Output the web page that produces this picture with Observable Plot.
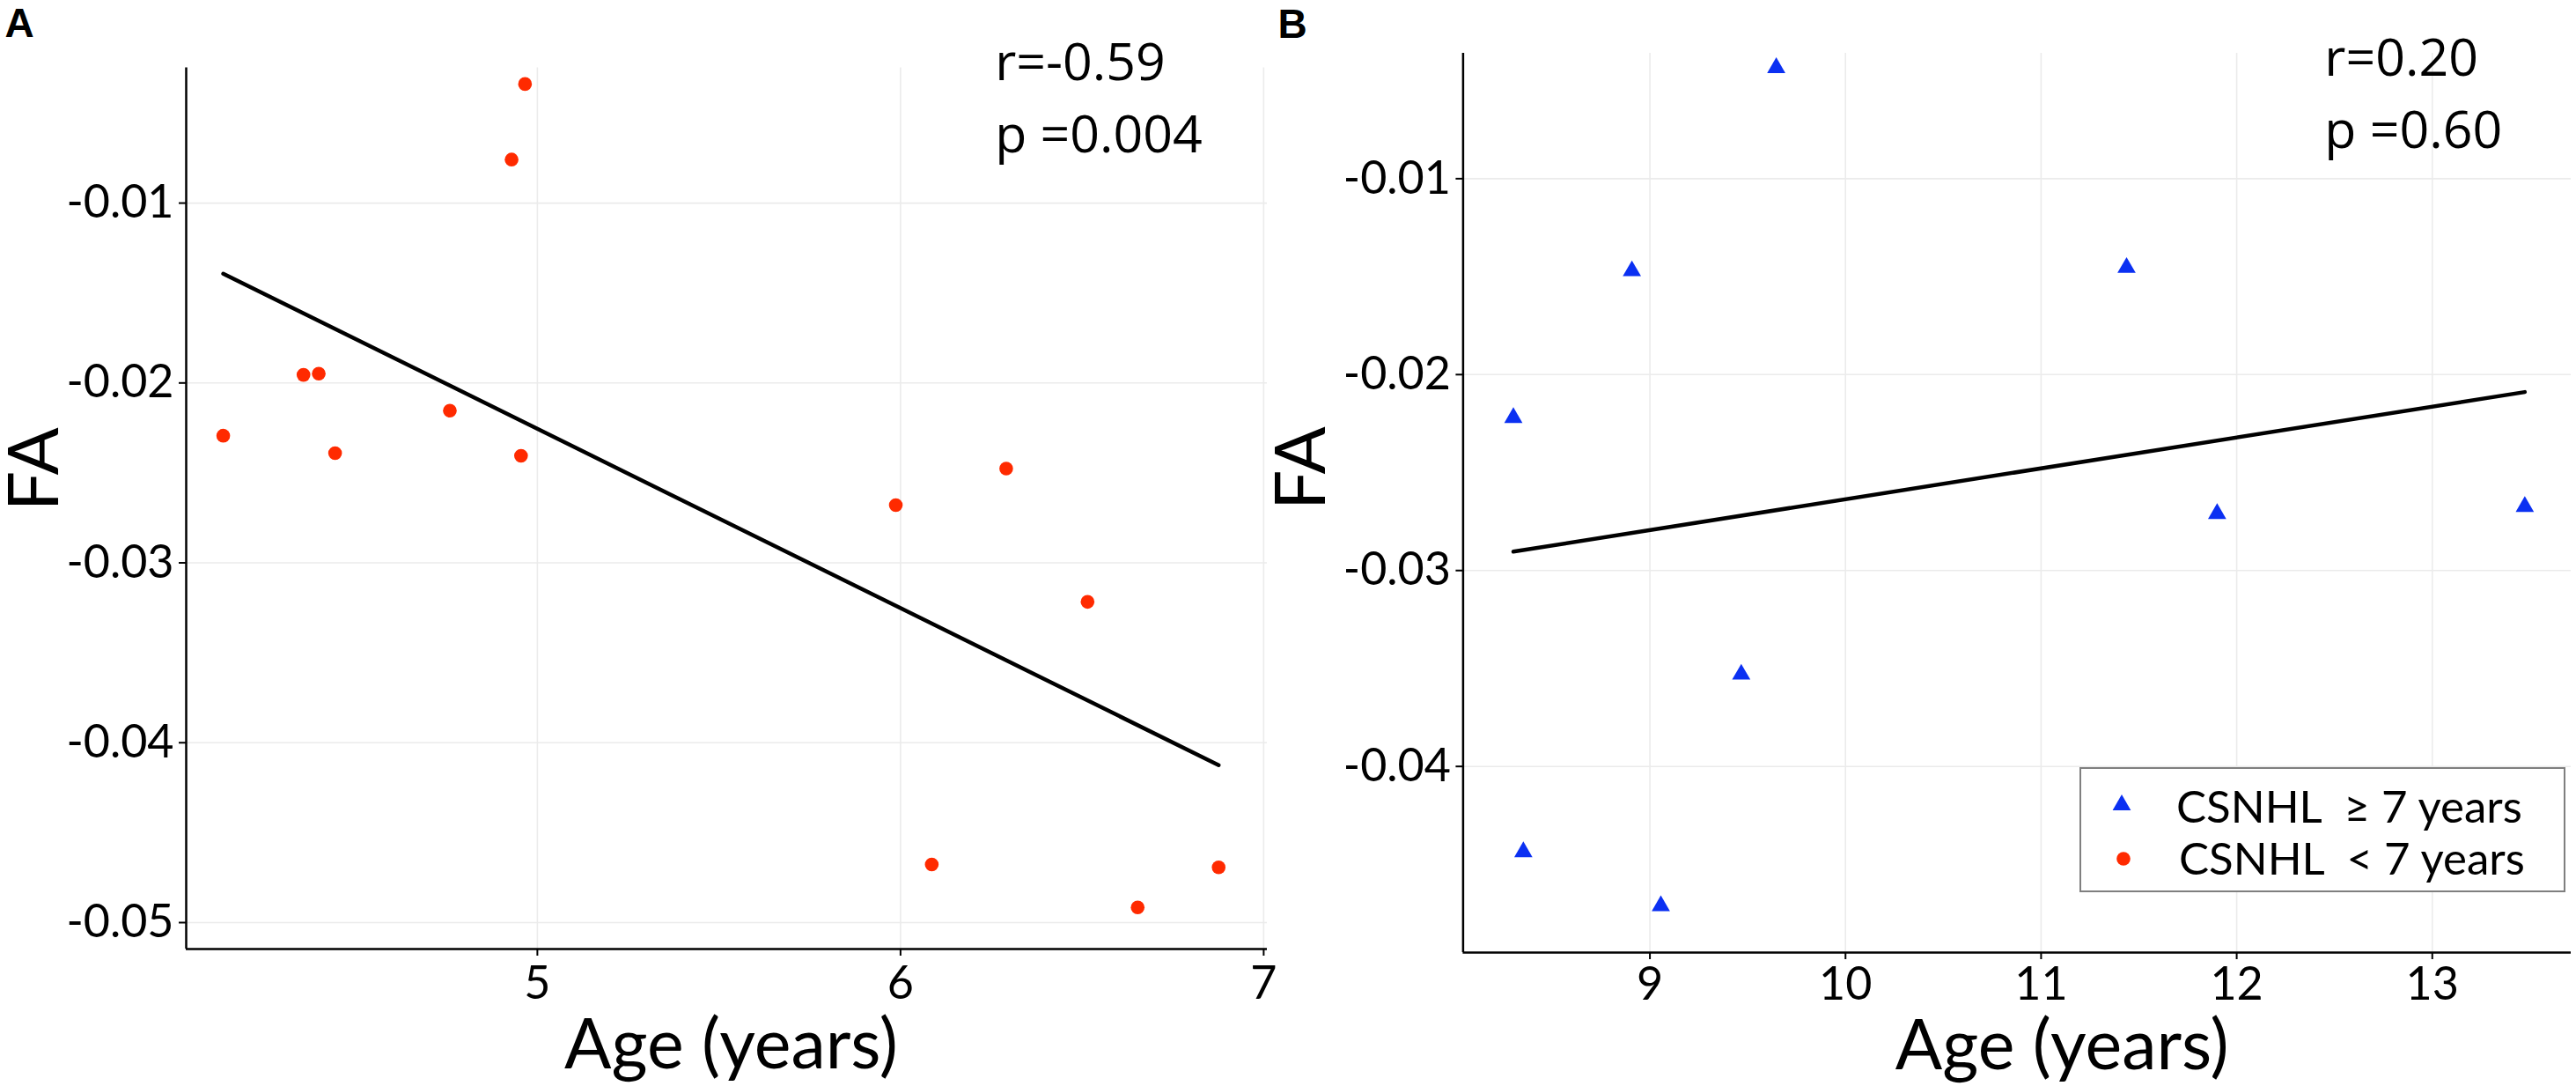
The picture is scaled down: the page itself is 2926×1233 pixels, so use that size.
<!DOCTYPE html>
<html>
<head>
<meta charset="utf-8">
<script src="https://cdn.jsdelivr.net/npm/d3@7"></script>
<script src="https://cdn.jsdelivr.net/npm/@observablehq/plot@0.6"></script>
<style>
  html, body { margin: 0; padding: 0; background: #fff; }
  #wrap { position: relative; width: 2926px; height: 1233px; overflow: hidden; background: #fff; }
  #wrap > .panel { position: absolute; top: 0; }
  #legend { position: absolute; left: 0; top: 0; pointer-events: none; }
</style>
</head>
<body>
<div id="wrap"></div>
<script>
// ---------- data ----------
const ageA = [4.135, 4.356, 4.398, 4.443, 4.759, 4.929, 4.955, 4.966, 5.987, 6.086, 6.291, 6.515, 6.653, 6.876];
const faA  = [-0.02293, -0.01955, -0.01948, -0.0239, -0.02154, -0.00758, -0.02405, -0.00338, -0.02679, -0.04677, -0.02476, -0.03217, -0.04916, -0.04693];
const ageB = [8.302, 8.353, 8.908, 9.056, 9.467, 9.646, 11.437, 11.90, 13.473];
const faB  = [-0.0222, -0.04436, -0.01471, -0.04712, -0.0353, -0.00434, -0.01454, -0.0271, -0.02674];

const xTicksA = [5, 6, 7];
const yTicksA = [-0.01, -0.02, -0.03, -0.04, -0.05];
const xTicksB = [9, 10, 11, 12, 13];
const yTicksB = [-0.01, -0.02, -0.03, -0.04];

const statsA = ["r=-0.59", "p =0.004"];
const statsB = ["r=0.20", "p =0.60"];
const panelLabels = ["A", "B"];
const xLabel = "Age (years)";
const yLabel = "FA";
const legendLabels = ["CSNHL  \u2265 7 years", "CSNHL  < 7 years"];

const RED = "#ff2a00";
const BLUE = "#0b30f2";
const GRID = "#ebebeb";
const TICKFONT = "Lato, 'Open Sans', sans-serif";
const STATFONT = "'Open Sans', 'DejaVu Sans', sans-serif";

const dataA = ageA.map((a, i) => ({age: a, fa: faA[i]}));
const dataB = ageB.map((a, i) => ({age: a, fa: faB[i]}));

function panel({data, width, marginLeft, marginRight, marginTop, marginBottom,
                xDomain, yDomain, xTicks, yTicks, symbol, fill, r,
                stats, statX, statY, letter, letterDx, letterDy,
                xLabelDx, xLabelDy, yLabelY, yLabelDx, xTickPad}) {
  return Plot.plot({
    width, height: 1233,
    marginLeft, marginRight, marginTop, marginBottom,
    style: {fontFamily: TICKFONT, background: "transparent", overflow: "visible"},
    x: {domain: xDomain},
    y: {domain: yDomain},
    marks: [
      Plot.gridX(xTicks, {stroke: GRID, strokeOpacity: 1, strokeWidth: 1.6}),
      Plot.gridY(yTicks, {stroke: GRID, strokeOpacity: 1, strokeWidth: 1.6}),
      Plot.axisX(xTicks, {tickSize: 8, tickPadding: xTickPad, fontSize: 52, strokeWidth: 2,
                          tickFormat: d => String(d), label: null, fill: "black", stroke: "black"}),
      Plot.axisY(yTicks, {tickSize: 8, tickPadding: 6, fontSize: 52, strokeWidth: 2,
                          tickFormat: d => d.toFixed(2), label: null, fill: "black", stroke: "black"}),
      Plot.ruleX([xDomain[0]], {stroke: "black", strokeWidth: 2.5}),
      Plot.ruleY([yDomain[0]], {stroke: "black", strokeWidth: 2.5}),
      Plot.linearRegressionY(data, {x: "age", y: "fa", ci: 0, stroke: "black", strokeWidth: 4.5}),
      Plot.dot(data, {x: "age", y: "fa", symbol, fill, r, stroke: "none"}),
      Plot.text([stats.join("\n")], {x: statX, y: statY, textAnchor: "start", lineAnchor: "bottom",
                          lineHeight: 1.38, fontSize: 59, fontFamily: STATFONT, fill: "black"}),
      Plot.text([letter], {frameAnchor: "top-left", dx: letterDx, dy: letterDy, textAnchor: "start",
                          lineAnchor: "bottom", fontSize: 46, fontWeight: "bold",
                          fontFamily: "'Liberation Sans', Arial, sans-serif", fill: "black"}),
      Plot.text([xLabel], {frameAnchor: "bottom", dx: xLabelDx, dy: xLabelDy, textAnchor: "middle",
                          lineAnchor: "bottom", fontSize: 79, fontFamily: TICKFONT, fill: "black"}),
      Plot.text([yLabel], {frameAnchor: "left", y: () => yLabelY, dx: yLabelDx, rotate: -90,
                          textAnchor: "middle", lineAnchor: "middle", fontSize: 80,
                          fontFamily: TICKFONT, fill: "black"})
    ]
  });
}

const wrap = document.getElementById("wrap");

const pA = panel({
  data: dataA, width: 1460, marginLeft: 211, marginRight: 21, marginTop: 76.5, marginBottom: 156,
  xDomain: [4.033, 7.01], yDomain: [-0.05147, -0.00248], xTicks: xTicksA, yTicks: yTicksA,
  symbol: "circle", fill: RED, r: 7.8,
  stats: statsA, statX: 6.26, statY: -0.00716,
  letter: panelLabels[0], letterDx: -206, letterDy: -35.5,
  xLabelDx: 5, xLabelDy: 135, yLabelY: -0.0248, yLabelDx: -171, xTickPad: 12
});
pA.classList.add("panel");
pA.style.left = "0px";
wrap.appendChild(pA);

const pB = panel({
  data: dataB, width: 1466, marginLeft: 201.4, marginRight: 6, marginTop: 60, marginBottom: 152,
  xDomain: [8.045, 13.71], yDomain: [-0.0495, -0.0036], xTicks: xTicksB, yTicks: yTicksB,
  symbol: "triangle", fill: BLUE, r: 7.7,
  stats: statsB, statX: 12.449, statY: -0.00842,
  letter: panelLabels[1], letterDx: -210.4, letterDy: -18,
  xLabelDx: 51, xLabelDy: 132, yLabelY: -0.02478, yLabelDx: -182.4, xTickPad: 9
});
pB.classList.add("panel");
pB.style.left = "1460px";
wrap.appendChild(pB);

// ---------- legend (inside panel B, bottom right) ----------
const ns = "http://www.w3.org/2000/svg";
const lg = document.createElementNS(ns, "svg");
lg.setAttribute("id", "legend");
lg.setAttribute("width", 2926);
lg.setAttribute("height", 1233);
lg.innerHTML = `
  <rect x="2363" y="872" width="550" height="140" fill="white" stroke="#7f7f7f" stroke-width="2"/>
  <path transform="translate(2410,914)" d="${d3.symbol(d3.symbolTriangle, 7.7 * 7.7 * Math.PI)()}" fill="${BLUE}"/>
  <circle cx="2412" cy="975" r="7.8" fill="${RED}"/>
  <text x="2472" y="934" font-family="Lato, 'Open Sans', sans-serif" font-size="51" fill="black" xml:space="preserve">${legendLabels[0].replace("<", "&lt;")}</text>
  <text x="2475" y="993" font-family="Lato, 'Open Sans', sans-serif" font-size="51" fill="black" xml:space="preserve">${legendLabels[1].replace("<", "&lt;")}</text>
`;
wrap.appendChild(lg);
</script>
</body>
</html>
